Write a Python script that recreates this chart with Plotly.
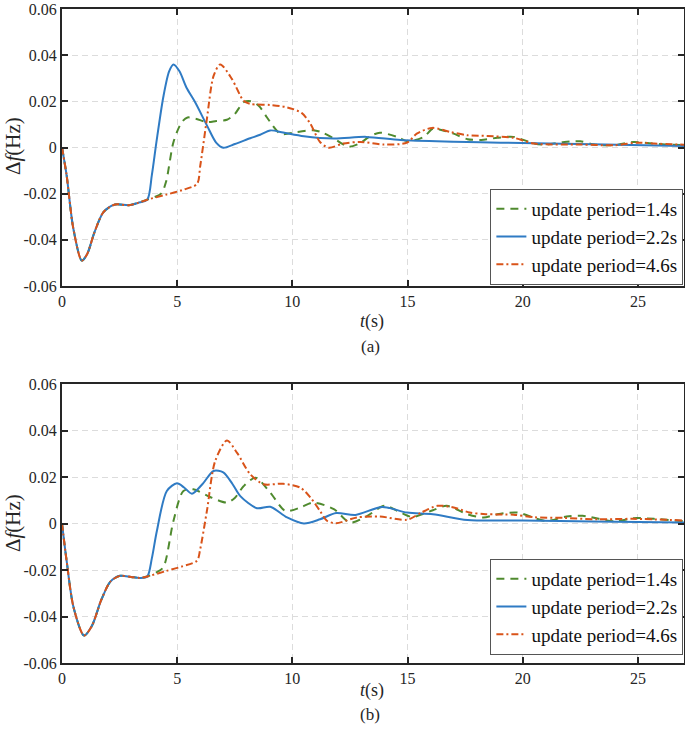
import plotly.graph_objects as go

# ---------------- data ----------------
# Panel (a)
a_t_green = [0, 0.2, 0.49, 0.86, 1.1, 1.4, 1.8, 2.3, 2.9, 3.3, 3.7, 4.3, 4.52, 4.84, 5.2, 5.45, 5.8, 6.29, 6.7, 7.16, 7.5, 7.88, 8.2, 8.55, 8.9, 9.48, 10.2, 10.9, 11.3, 11.8, 12.45, 12.9, 13.4, 13.8, 14.55, 15.0, 15.7, 16.1, 16.5, 17.0, 17.6, 18.2, 18.9, 19.6, 20.5, 21.0, 21.8, 22.5, 23.1, 24.0, 24.8, 25.5, 26.2, 27.0]
a_v_green = [0, -0.012, -0.035, -0.049, -0.046, -0.037, -0.028, -0.0247, -0.025, -0.024, -0.0226, -0.020, -0.0147, 0.0024, 0.011, 0.013, 0.0125, 0.011, 0.0115, 0.012, 0.0145, 0.0196, 0.020, 0.018, 0.013, 0.006, 0.0067, 0.0075, 0.0065, 0.0039, 0.0003, 0.0017, 0.005, 0.0064, 0.0046, 0.0027, 0.0046, 0.0081, 0.0075, 0.006, 0.0036, 0.0033, 0.0042, 0.0046, 0.0017, 0.0012, 0.0024, 0.0027, 0.0013, 0.001, 0.0024, 0.0018, 0.0013, 0.001]

a_t_blue = [0, 0.2, 0.49, 0.86, 1.1, 1.4, 1.8, 2.3, 2.9, 3.3, 3.7, 3.9, 4.1, 4.4, 4.65, 4.84, 5.1, 5.4, 5.78, 6.29, 6.7, 7.0, 7.5, 8.17, 8.6, 9.04, 9.6, 10.5, 11.8, 13.2, 14.7, 17.0, 19.04, 23.0, 27.0]
a_v_blue = [0, -0.012, -0.035, -0.049, -0.046, -0.037, -0.028, -0.0247, -0.025, -0.024, -0.0226, -0.012, 0.0024, 0.022, 0.033, 0.036, 0.033, 0.026, 0.0196, 0.0096, 0.002, -0.0001, 0.0015, 0.004, 0.0055, 0.0074, 0.0065, 0.0049, 0.0039, 0.0046, 0.0032, 0.0025, 0.0021, 0.0014, 0.0007]

a_t_orange = [0, 0.2, 0.49, 0.86, 1.1, 1.4, 1.8, 2.3, 2.9, 3.3, 3.7, 4.5, 5.2, 5.86, 6.0, 6.29, 6.58, 6.87, 7.38, 7.88, 8.17, 9.04, 9.77, 10.4, 10.78, 11.2, 11.58, 12.2, 12.96, 13.97, 14.98, 15.4, 16.07, 16.87, 17.6, 18.46, 19.6, 20.5, 22.5, 24.0, 25.0, 25.7, 27.0]
a_v_orange = [0, -0.012, -0.035, -0.049, -0.046, -0.037, -0.028, -0.0247, -0.025, -0.024, -0.0226, -0.0205, -0.0185, -0.0158, -0.008, 0.0124, 0.031, 0.036, 0.0296, 0.0203, 0.0189, 0.0184, 0.0174, 0.015, 0.0103, 0.0024, -0.0001, 0.0017, 0.0024, 0.0013, 0.0021, 0.006, 0.0085, 0.0067, 0.0053, 0.005, 0.0042, 0.0017, 0.0013, 0.001, 0.0021, 0.0017, 0.0012]

# Panel (b)
b_t_green = [0, 0.2, 0.5, 0.96, 1.3, 1.7, 2.1, 2.52, 3.0, 3.39, 3.7, 4.1, 4.4, 4.84, 5.27, 5.7, 6.43, 7.16, 7.5, 7.88, 8.4, 9.04, 9.7, 10.35, 10.9, 11.8, 12.5, 13.2, 14.0, 14.7, 15.2, 16.1, 16.7, 17.6, 18.3, 18.9, 19.77, 21.0, 21.9, 22.6, 24.0, 24.8, 25.7, 27.0]
b_v_green = [0, -0.016, -0.036, -0.0482, -0.044, -0.033, -0.025, -0.0225, -0.023, -0.0234, -0.0228, -0.021, -0.0188, 0.0012, 0.014, 0.0147, 0.0114, 0.009, 0.011, 0.016, 0.0197, 0.0133, 0.0054, 0.0069, 0.009, 0.0062, 0.0004, 0.003, 0.0076, 0.0047, 0.0028, 0.0057, 0.0076, 0.004, 0.0026, 0.004, 0.0047, 0.0011, 0.003, 0.0033, 0.0009, 0.0023, 0.002, 0.001]

b_t_blue = [0, 0.2, 0.5, 0.96, 1.3, 1.7, 2.1, 2.52, 3.0, 3.39, 3.7, 3.9, 4.12, 4.55, 4.99, 5.3, 5.64, 6.1, 6.58, 7.0, 7.4, 7.74, 8.46, 9.04, 9.77, 10.5, 11.2, 11.9, 12.74, 13.9, 14.98, 16.1, 17.6, 20.0, 23.0, 27.0]
b_v_blue = [0, -0.016, -0.036, -0.0482, -0.044, -0.033, -0.025, -0.0225, -0.023, -0.0234, -0.0228, -0.015, -0.0031, 0.014, 0.0173, 0.0155, 0.0128, 0.017, 0.0226, 0.022, 0.017, 0.0118, 0.0066, 0.0072, 0.0026, 0.0, 0.0018, 0.0045, 0.0037, 0.0071, 0.0047, 0.004, 0.0015, 0.0013, 0.0009, 0.0004]

b_t_orange = [0, 0.2, 0.5, 0.96, 1.3, 1.7, 2.1, 2.52, 3.0, 3.39, 3.7, 4.5, 5.2, 5.86, 6.0, 6.29, 6.65, 7.16, 7.6, 8.17, 8.75, 9.6, 10.35, 10.8, 11.2, 11.5, 11.9, 12.8, 13.8, 14.98, 15.6, 16.3, 17.0, 17.7, 18.4, 19.6, 20.5, 21.8, 23.2, 24.8, 27.0]
b_v_orange = [0, -0.016, -0.036, -0.0482, -0.044, -0.033, -0.025, -0.0225, -0.023, -0.0234, -0.0228, -0.0205, -0.0185, -0.016, -0.011, 0.0054, 0.0269, 0.0357, 0.0304, 0.0212, 0.0169, 0.0171, 0.0154, 0.011, 0.0054, 0.0012, 0.0001, 0.0026, 0.003, 0.0016, 0.0047, 0.0076, 0.0069, 0.0047, 0.004, 0.0038, 0.0027, 0.0024, 0.0018, 0.002, 0.0013]

series_names = ["update period=1.4s", "update period=2.2s", "update period=4.6s"]
x_tick_vals = [0, 5, 10, 15, 20, 25]
y_tick_vals = [-0.06, -0.04, -0.02, 0, 0.02, 0.04, 0.06]
y_tick_text = ["-0.06", "-0.04", "-0.02", "0", "0.02", "0.04", "0.06"]
panel_labels = ["(a)", "(b)"]
x_title = "<i>t</i>(s)"
y_title = "Δ<i>f</i>(Hz)"

# ---------------- styling ----------------
colors = ["#4F8A2E", "#2F7BC4", "#D95319"]
dashes = ["8px,6px", "solid", "7px,3px,2px,3px"]
FONT = "Liberation Serif"

fig = go.Figure()

panels = [
    (a_t_green, a_v_green, a_t_blue, a_v_blue, a_t_orange, a_v_orange),
    (b_t_green, b_v_green, b_t_blue, b_v_blue, b_t_orange, b_v_orange),
]
for pi, p in enumerate(panels):
    xa = "x" if pi == 0 else "x2"
    ya = "y" if pi == 0 else "y2"
    leg = "legend" if pi == 0 else "legend2"
    for si in range(3):
        fig.add_trace(go.Scatter(
            x=p[2 * si], y=p[2 * si + 1], mode="lines", name=series_names[si],
            line=dict(color=colors[si], width=2, dash=dashes[si], shape="spline", smoothing=0.8),
            xaxis=xa, yaxis=ya, legend=leg,
        ))

H = 736
L, R = 62, 1
top_m, bot_m = 9, 73
ph = H - top_m - bot_m
pw = 685 - L - R
def fy(px):
    return (H - bot_m - px) / ph
def fx(px):
    return (px - L) / pw

dom_a = [fy(286), 1.0]
dom_b = [0.0, fy(384)]

axis_common = dict(
    showline=True, linecolor="#262626", linewidth=2, mirror="allticks",
    ticks="inside", ticklen=6, tickwidth=2, tickcolor="#262626",
    showgrid=True, gridcolor="#DCDCDC", gridwidth=1.2, griddash="6px,4px",
    zeroline=False, tickfont=dict(family=FONT, size=16, color="#262626"),
    automargin=False, ticklabeloverflow="allow",
)

legend_common = dict(xanchor="right", yanchor="bottom",
                     bgcolor="white", bordercolor="#555555", borderwidth=1,
                     font=dict(family=FONT, size=19, color="#111111"),
                     tracegroupgap=0, itemwidth=30)

fig.update_layout(
    width=685, height=736,
    margin=dict(l=L, r=R, t=top_m, b=bot_m, autoexpand=False),
    paper_bgcolor="white", plot_bgcolor="white",
    font=dict(family=FONT, color="#262626"),
    showlegend=True,
    xaxis=dict(domain=[0, 1], anchor="y", range=[0, 27], tickvals=x_tick_vals, **axis_common),
    yaxis=dict(domain=dom_a, anchor="x", range=[-0.06, 0.06], tickvals=y_tick_vals, ticktext=y_tick_text, **axis_common),
    xaxis2=dict(domain=[0, 1], anchor="y2", range=[0, 27], tickvals=x_tick_vals, **axis_common),
    yaxis2=dict(domain=dom_b, anchor="x2", range=[-0.06, 0.06], tickvals=y_tick_vals, ticktext=y_tick_text, **axis_common),
    legend=dict(x=0.999, y=fy(285), **legend_common),
    legend2=dict(x=0.999, y=fy(655), **legend_common),
)

# axis titles and panel labels
for xt_y, lbl_y, yt_y, lbl in [(321, 346, 146, panel_labels[0]), (690, 714, 523, panel_labels[1])]:
    fig.add_annotation(text=x_title, x=fx(372), y=fy(xt_y), xref="paper", yref="paper",
                       showarrow=False, font=dict(family=FONT, size=18, color="#262626"),
                       xanchor="center", yanchor="middle")
    fig.add_annotation(text=lbl, x=fx(370), y=fy(lbl_y), xref="paper", yref="paper",
                       showarrow=False, font=dict(family=FONT, size=17, color="#262626"),
                       xanchor="center", yanchor="middle")
    fig.add_annotation(text=y_title, x=fx(13), y=fy(yt_y), xref="paper", yref="paper",
                       showarrow=False, textangle=-90, font=dict(family=FONT, size=21, color="#262626"),
                       xanchor="center", yanchor="middle")

fig.write_html("out.html", config={"displayModeBar": False},
               post_script="document.body.style.margin='0';document.body.style.overflow='hidden';")
